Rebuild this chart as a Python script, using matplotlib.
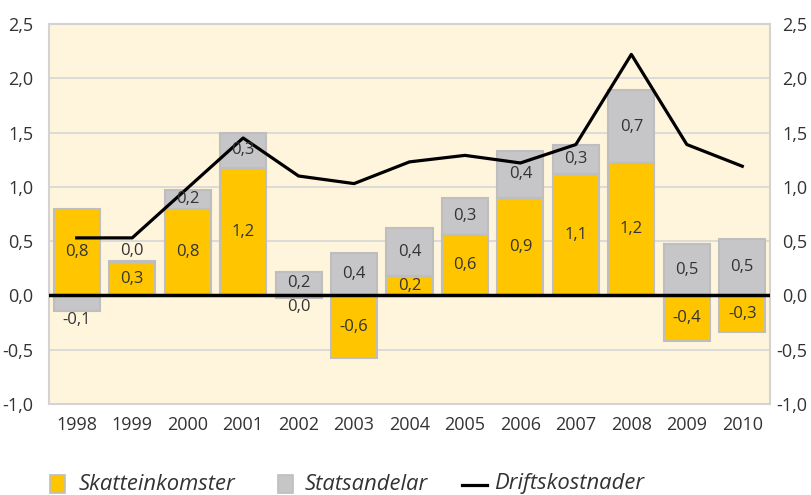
import matplotlib
matplotlib.use("Agg")
import matplotlib.pyplot as plt
from matplotlib.patches import Rectangle
from matplotlib.lines import Line2D
import numpy as np

years = ["1998", "1999", "2000", "2001", "2002", "2003", "2004", "2005",
         "2006", "2007", "2008", "2009", "2010"]
skatteinkomster = [0.80, 0.30, 0.80, 1.17, -0.02, -0.58, 0.18, 0.56, 0.90, 1.12, 1.22, -0.42, -0.34]
statsandelar = [-0.14, 0.02, 0.17, 0.33, 0.22, 0.39, 0.44, 0.34, 0.43, 0.27, 0.67, 0.47, 0.52]
driftskostnader = [0.53, 0.53, 0.99, 1.45, 1.10, 1.03, 1.23, 1.29, 1.22, 1.39, 2.22, 1.39, 1.19]
yticks = [-1.0, -0.5, 0.0, 0.5, 1.0, 1.5, 2.0, 2.5]
legend_labels = ["Skatteinkomster", "Statsandelar", "Driftskostnader"]

plt.rcParams['font.family'] = ['Open Sans', 'DejaVu Sans']

YELLOW = "#FFC600"
GRAY = "#C6C6C8"
EDGE = "#BEBEBE"
BG = "#FFF5DC"
TXT = "#333333"

W, H = 811, 495
fig = plt.figure(figsize=(W/100, H/100), dpi=100)
ax = fig.add_axes([49/W, 1-404/H, (770-49)/W, (404-24)/H])
ax.set_facecolor(BG)

x = np.arange(len(years))
w = 0.83

def fmt(v):
    r = round(v, 1)
    if abs(r) < 0.05:
        r = 0.0
    return f"{r:.1f}".replace(".", ",")

for i in range(len(years)):
    s = skatteinkomster[i]
    g = statsandelar[i]
    ax.bar(x[i], s, width=w, bottom=0, color=YELLOW, edgecolor=EDGE, linewidth=1.5, zorder=3)
    if (s >= 0 and g >= 0) or (s < 0 and g < 0):
        gb = s
    else:
        gb = 0
    ax.bar(x[i], g, width=w, bottom=gb, color=GRAY, edgecolor=EDGE, linewidth=1.5, zorder=3)
    for val, base in ((s, 0), (g, gb)):
        if abs(val) < 0.15:
            end = base + val
            sign = 1 if val > 0 else -1
            ypos = end + sign * 0.09
        else:
            ypos = base + val / 2
        ax.text(x[i], ypos, fmt(val), ha="center", va="center", fontsize=12,
                color=TXT, zorder=5)

ax.plot(x, driftskostnader, color="black", linewidth=2.3, zorder=4)
ax.axhline(0, color="black", linewidth=2.5, zorder=4)

ax.set_xlim(-0.5, len(years) - 0.5)
ax.set_ylim(-1.0, 2.5)
ax.set_yticks(yticks)
ax.set_yticklabels([fmt(v) for v in yticks])
ax.set_xticks(x)
ax.set_xticklabels(years)
ax.tick_params(axis="both", length=0, labelsize=13, labelcolor=TXT)
ax.tick_params(axis="y", pad=11)
ax.tick_params(axis="x", pad=9)
ax.grid(axis="y", color="#D6D6D6", linewidth=1.2, zorder=0)
ax.set_axisbelow(True)
for sp in ax.spines.values():
    sp.set_color("#D3D3D3")
    sp.set_linewidth(1.5)

ax2 = ax.twinx()
ax2.set_ylim(-1.0, 2.5)
ax2.set_yticks(yticks)
ax2.set_yticklabels([fmt(v) for v in yticks])
ax2.tick_params(axis="y", length=0, labelsize=13, labelcolor=TXT, pad=27)
for t in ax2.get_yticklabels():
    t.set_horizontalalignment("right")
for sp in ax2.spines.values():
    sp.set_visible(False)

# legend drawn manually
def fx(px):
    return px / W

def fy(py):
    return 1 - py / H

fig.add_artist(Rectangle((fx(50), fy(493)), 15/W, 18/H, transform=fig.transFigure,
                         facecolor=YELLOW, edgecolor=EDGE, linewidth=1.2))
fig.text(fx(79), fy(484), legend_labels[0], fontsize=15.8, style="italic", color=TXT,
         ha="left", va="center")
fig.add_artist(Rectangle((fx(278), fy(493)), 15/W, 18/H, transform=fig.transFigure,
                         facecolor=GRAY, edgecolor=EDGE, linewidth=1.2))
fig.text(fx(305), fy(484), legend_labels[1], fontsize=15.8, style="italic", color=TXT,
         ha="left", va="center")
fig.add_artist(Line2D([fx(462), fx(487)], [fy(485), fy(485)], transform=fig.transFigure,
                      color="black", linewidth=2.3))
fig.text(fx(494), fy(484), legend_labels[2], fontsize=15.8, style="italic", color=TXT,
         ha="left", va="center")

fig.savefig("out.png", dpi=100)
